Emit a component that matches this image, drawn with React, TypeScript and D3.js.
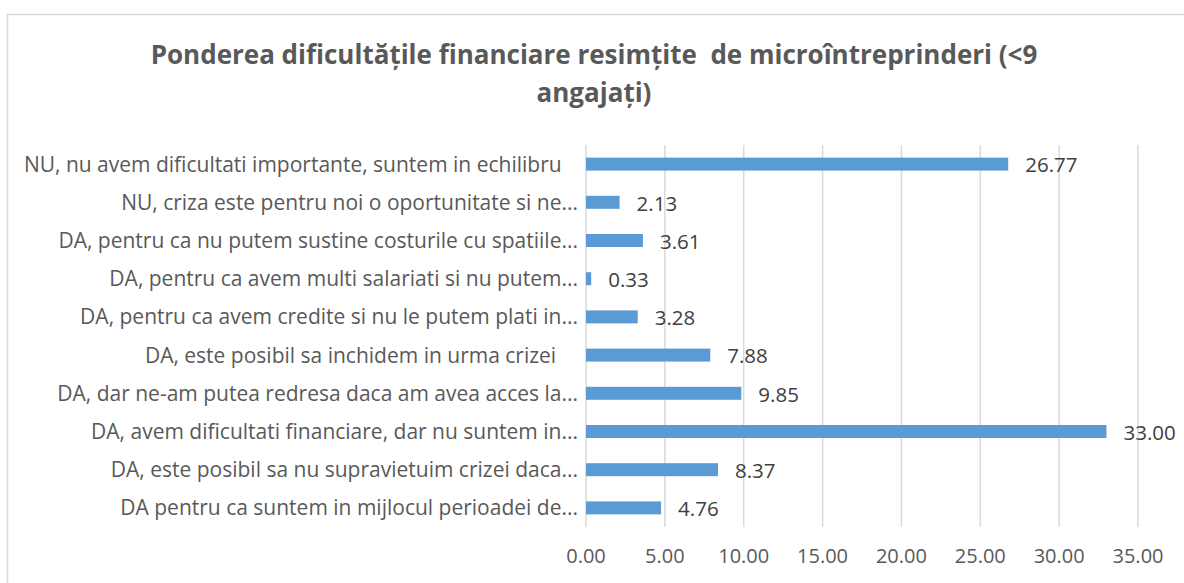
import React, { useEffect, useRef } from 'react';
import * as d3 from 'd3';

// categorii (de sus in jos)
const categories = [
  'NU, nu avem dificultati importante, suntem in echilibru   ',
  'NU, criza este pentru noi o oportunitate si ne...',
  'DA, pentru ca nu putem sustine costurile cu spatiile...',
  'DA, pentru ca avem multi salariati si nu putem...',
  'DA, pentru ca avem credite si nu le putem plati in...',
  'DA, este posibil sa inchidem in urma crizei    ',
  'DA, dar ne-am putea redresa daca am avea acces la...',
  'DA, avem dificultati financiare, dar nu suntem in...',
  'DA, este posibil sa nu supravietuim crizei daca...',
  'DA pentru ca suntem in mijlocul perioadei de...',
];
const values = [26.77, 2.13, 3.61, 0.33, 3.28, 7.88, 9.85, 33.0, 8.37, 4.76];
const ticks = [0, 5, 10, 15, 20, 25, 30, 35];
const titleLines = [
  'Ponderea dificultățile financiare resimțite  de microîntreprinderi (<9',
  'angajați)',
];

const W = 1184;
const H = 583;
const FONT = 'Open Sans, sans-serif';

const App = () => {
  const ref = useRef<SVGSVGElement>(null);

  useEffect(() => {
    const svg = d3.select(ref.current);
    svg.selectAll('*').remove();

    // chenarul graficului
    svg.append('rect')
      .attr('x', 7.5).attr('y', 14.5)
      .attr('width', 1190).attr('height', 600)
      .attr('fill', '#fff').attr('stroke', '#d9d9d9').attr('stroke-width', 1.5);

    // titlu
    svg.append('g').selectAll('text')
      .data(titleLines)
      .enter()
      .append('text')
      .attr('x', 594)
      .attr('y', (d, i) => 64 + i * 38)
      .attr('text-anchor', 'middle')
      .attr('font-family', FONT)
      .attr('font-size', 26)
      .attr('font-weight', 'bold')
      .attr('fill', '#595959')
      .style('white-space', 'pre')
      .text(d => d);

    const x = d3.scaleLinear().domain([0, 35]).range([586, 1138]);
    const y = d3.scaleBand<string>().domain(categories).range([145, 527]).paddingInner(0.66).paddingOuter(0.33);

    // linii de grila
    svg.append('g').selectAll('line')
      .data(ticks)
      .enter()
      .append('line')
      .attr('x1', d => x(d)).attr('x2', d => x(d))
      .attr('y1', 145).attr('y2', 527)
      .attr('stroke', '#d9d9d9').attr('stroke-width', 1.5);

    // etichete axa X
    svg.append('g').selectAll('text')
      .data(ticks)
      .enter()
      .append('text')
      .attr('x', d => x(d))
      .attr('y', 563)
      .attr('text-anchor', 'middle')
      .attr('font-family', FONT)
      .attr('font-size', 20)
      .attr('fill', '#595959')
      .text(d => d3.format('.2f')(d));

    // etichete categorii
    svg.append('g').selectAll('text')
      .data(categories)
      .enter()
      .append('text')
      .attr('x', 578)
      .attr('y', d => (y(d) as number) + y.bandwidth() / 2)
      .attr('dy', '0.36em')
      .attr('text-anchor', 'end')
      .attr('font-family', FONT)
      .attr('font-size', 21)
      .attr('fill', '#595959')
      .style('white-space', 'pre')
      .text(d => d);

    // bare
    svg.append('g').selectAll('rect')
      .data(values)
      .enter()
      .append('rect')
      .attr('x', x(0))
      .attr('y', (d, i) => y(categories[i]) as number)
      .attr('width', d => x(d) - x(0))
      .attr('height', y.bandwidth())
      .attr('fill', '#5b9bd5');

    // valori
    svg.append('g').selectAll('text')
      .data(values)
      .enter()
      .append('text')
      .attr('x', d => x(d) + 17)
      .attr('y', (d, i) => (y(categories[i]) as number) + y.bandwidth() / 2)
      .attr('dy', '0.4em')
      .attr('font-family', FONT)
      .attr('font-size', 20.5)
      .attr('fill', '#404040')
      .text(d => d3.format('.2f')(d));
  }, []);

  return (
    <svg ref={ref} width={W} height={H} style={{ position: 'absolute', left: 0, top: 0 }} />
  );
};

export default App;
